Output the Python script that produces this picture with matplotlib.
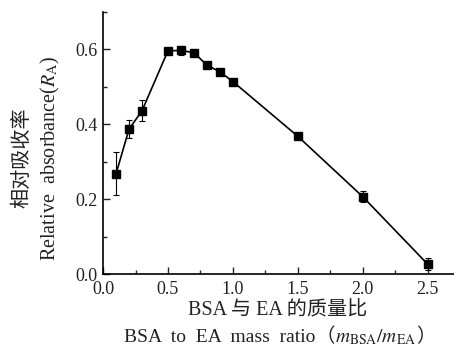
import matplotlib
matplotlib.use('Agg')
import matplotlib.pyplot as plt
from matplotlib.ticker import MultipleLocator, FormatStrFormatter
from matplotlib.offsetbox import TextArea, HPacker, AnchoredOffsetbox

plt.rcParams['mathtext.fontset'] = 'stix'
serif_cjk = ['Liberation Serif', 'Noto Sans CJK SC']
ink = '#222222'

ratio = [0.1, 0.2, 0.3, 0.5, 0.6, 0.7, 0.8, 0.9, 1.0, 1.5, 2.0, 2.5]
absorb = [0.268, 0.387, 0.436, 0.596, 0.597, 0.591, 0.558, 0.540, 0.514, 0.368, 0.207, 0.027]
err = [0.057, 0.024, 0.028, 0.004, 0.011, 0.005, 0.004, 0.004, 0.004, 0.004, 0.014, 0.016]

fig = plt.figure(figsize=(4.54, 3.48), dpi=100)
ax = fig.add_axes([0.227, 0.212, 0.772, 0.754])

ax.errorbar(ratio, absorb, yerr=err, fmt='s-', color='black', ms=5.5, lw=1.2,
            elinewidth=0.8, capsize=2.5, capthick=0.8)

ax.set_xlim(0, 2.7)
ax.set_ylim(0, 0.7)
ax.xaxis.set_major_locator(MultipleLocator(0.5))
ax.xaxis.set_minor_locator(MultipleLocator(0.25))
ax.yaxis.set_major_locator(MultipleLocator(0.2))
ax.yaxis.set_minor_locator(MultipleLocator(0.1))
ax.xaxis.set_major_formatter(FormatStrFormatter('%.1f'))
ax.yaxis.set_major_formatter(FormatStrFormatter('%.1f'))
ax.tick_params(which='both', direction='in', width=1.0, colors=ink)
ax.tick_params(which='major', length=5, labelsize=13)
ax.tick_params(which='minor', length=3)
ax.tick_params(axis='x', which='major', pad=5)
ax.tick_params(axis='y', which='major', pad=4)
for lab in ax.get_xticklabels() + ax.get_yticklabels():
    lab.set_fontfamily('Liberation Serif')
ax.spines['top'].set_visible(False)
ax.spines['right'].set_visible(False)
ax.spines['left'].set_linewidth(1.2)
ax.spines['bottom'].set_linewidth(1.2)

# y label, two lines
fig.text(22 / 454, 1 - 158 / 348, '相对吸收率', rotation=90, ha='center', va='center',
         fontsize=14.5, family='Noto Sans CJK SC', color=ink)
fig.text(50 / 454, 1 - 158 / 348, r'Relative  absorbance($R_{\rm A}$)', rotation=90,
         ha='center', va='center', fontsize=14.5, family='Liberation Serif', color=ink)

# x label, two lines
fig.text(278 / 454, 1 - 311 / 348, 'BSA 与 EA 的质量比', ha='center', va='center',
         fontsize=14.5, family=serif_cjk, color=ink)

parts = [
    TextArea('BSA  to  EA  mass  ratio', textprops=dict(fontsize=14, family='Liberation Serif', color=ink)),
    TextArea('（', textprops=dict(fontsize=14, family='Noto Sans CJK SC', color=ink)),
    TextArea(r'$m_{\rm BSA}/m_{\rm EA}$', textprops=dict(fontsize=14, color=ink)),
    TextArea('）', textprops=dict(fontsize=14, family='Noto Sans CJK SC', color=ink)),
]
line2 = HPacker(children=parts, align='baseline', pad=0, sep=0)
box = AnchoredOffsetbox(loc='center', child=line2, pad=0, borderpad=0, frameon=False,
                        bbox_to_anchor=(280 / 454, 1 - 337 / 348),
                        bbox_transform=fig.transFigure)
fig.add_artist(box)

fig.savefig('out.png', dpi=100)
